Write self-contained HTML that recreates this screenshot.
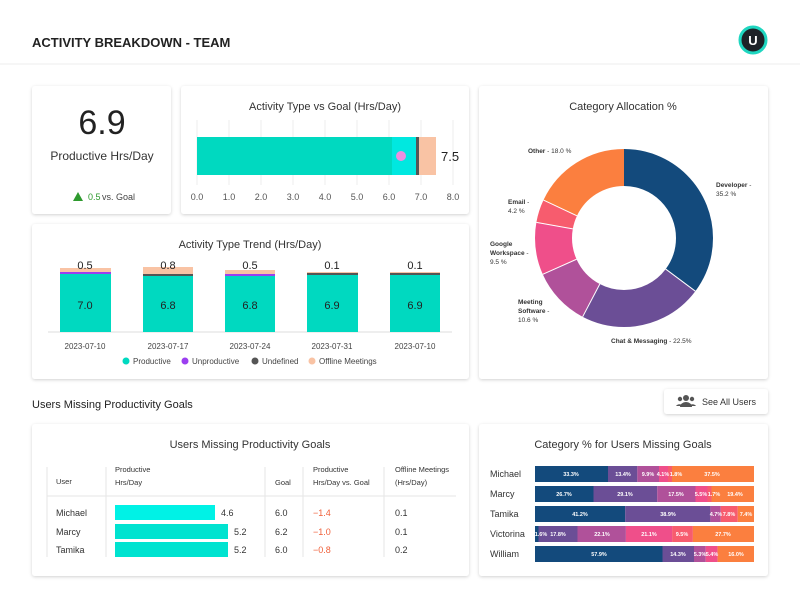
<!DOCTYPE html>
<html><head><meta charset="utf-8"><style>
html,body{margin:0;padding:0;background:#fff;}
svg{display:block;font-family:"Liberation Sans",sans-serif;}
</style></head><body>
<svg width="800" height="608" viewBox="0 0 800 608" xmlns="http://www.w3.org/2000/svg">
<defs>
<filter id="sh" x="-5%" y="-5%" width="110%" height="115%"><feDropShadow dx="0" dy="1" stdDeviation="1.5" flood-color="#000" flood-opacity="0.18"/></filter>
</defs>
<rect width="800" height="608" fill="#fff"/>
<text x="32" y="47" font-size="13" font-weight="bold" fill="#222">ACTIVITY BREAKDOWN - TEAM</text>
<line x1="0" y1="64" x2="800" y2="64" stroke="#ececec"/>
<circle cx="753" cy="40" r="13" fill="#1d2228" stroke="#1fd6c0" stroke-width="3"/>
<text x="753" y="45" font-size="13" font-weight="bold" fill="#fff" text-anchor="middle">U</text>

<g filter="url(#sh)" fill="#fff">
<rect x="32" y="86" width="139" height="128" rx="3"/>
<rect x="181" y="86" width="288" height="128" rx="3"/>
<rect x="479" y="86" width="289" height="293" rx="3"/>
<rect x="32" y="224" width="437" height="155" rx="3"/>
<rect x="664" y="389" width="104" height="25" rx="3"/>
<rect x="32" y="424" width="437" height="152" rx="3"/>
<rect x="479" y="424" width="289" height="152" rx="3"/>
</g>

<!-- card1 -->
<text x="102" y="134" font-size="34" fill="#222" text-anchor="middle">6.9</text>
<text x="102" y="160" font-size="12" fill="#333" text-anchor="middle">Productive Hrs/Day</text>
<polygon points="73,201 78,192 83,201" fill="#2e9a2e"/>
<text x="88" y="200" font-size="9" fill="#2e9a2e">0.5</text>
<text x="102" y="200" font-size="9" fill="#444">vs. Goal</text>

<!-- card2 -->
<text x="325" y="110" font-size="11" fill="#333" text-anchor="middle">Activity Type vs Goal (Hrs/Day)</text>
<g stroke="#eee">
<line x1="197" y1="120" x2="197" y2="185"/><line x1="229" y1="120" x2="229" y2="185"/><line x1="261" y1="120" x2="261" y2="185"/><line x1="293" y1="120" x2="293" y2="185"/><line x1="325" y1="120" x2="325" y2="185"/><line x1="357" y1="120" x2="357" y2="185"/><line x1="389" y1="120" x2="389" y2="185"/><line x1="421" y1="120" x2="421" y2="185"/><line x1="453" y1="120" x2="453" y2="185"/>
</g>
<rect x="197" y="137" width="195" height="38" fill="#00d9c0"/>
<rect x="392" y="137" width="24" height="38" fill="#00e8e0"/>
<rect x="416" y="137" width="3" height="38" fill="#555"/>
<rect x="419" y="137" width="17" height="38" fill="#f9c3a4"/>
<circle cx="401" cy="156" r="5" fill="#ee8ee0"/>
<text x="441" y="161" font-size="13" fill="#222">7.5</text>
<g font-size="9" fill="#555" text-anchor="middle">
<text x="197" y="200">0.0</text><text x="229" y="200">1.0</text><text x="261" y="200">2.0</text><text x="293" y="200">3.0</text><text x="325" y="200">4.0</text><text x="357" y="200">5.0</text><text x="389" y="200">6.0</text><text x="421" y="200">7.0</text><text x="453" y="200">8.0</text>
</g>

<!-- card3 donut -->
<text x="623" y="110" font-size="11" fill="#333" text-anchor="middle">Category Allocation %</text>
<g transform="translate(624,238) rotate(-90)" fill="none" stroke-width="37">
<circle r="70.5" stroke="#134a7c" stroke-dasharray="155.9 443" stroke-dashoffset="0"/>
<circle r="70.5" stroke="#6b4e96" stroke-dasharray="99.7 443" stroke-dashoffset="-155.9"/>
<circle r="70.5" stroke="#b0519a" stroke-dasharray="47 443" stroke-dashoffset="-255.6"/>
<circle r="70.5" stroke="#ef4f8a" stroke-dasharray="42.1 443" stroke-dashoffset="-302.6"/>
<circle r="70.5" stroke="#f75c6e" stroke-dasharray="18.6 443" stroke-dashoffset="-344.7"/>
<circle r="70.5" stroke="#fb7f3f" stroke-dasharray="79.7 443" stroke-dashoffset="-363.3"/>
</g>
<g transform="translate(624,238)" stroke="#fff" stroke-width="1">
<line x1="0" y1="-52" x2="0" y2="-89" transform="rotate(126.7)"/>
<line x1="0" y1="-52" x2="0" y2="-89" transform="rotate(207.7)"/>
<line x1="0" y1="-52" x2="0" y2="-89" transform="rotate(245.9)"/>
<line x1="0" y1="-52" x2="0" y2="-89" transform="rotate(280.1)"/>
<line x1="0" y1="-52" x2="0" y2="-89" transform="rotate(295.2)"/>
</g>
<g font-size="6.5" fill="#333">
<text x="528" y="153"><tspan font-weight="bold">Other</tspan> - 18.0 %</text>
<text x="716" y="187"><tspan font-weight="bold">Developer</tspan> -</text><text x="716" y="196">35.2 %</text>
<text x="508" y="204"><tspan font-weight="bold">Email</tspan> -</text><text x="508" y="213">4.2 %</text>
<text x="490" y="246" font-weight="bold">Google</text><text x="490" y="255"><tspan font-weight="bold">Workspace</tspan> -</text><text x="490" y="264">9.5 %</text>
<text x="518" y="304" font-weight="bold">Meeting</text><text x="518" y="313"><tspan font-weight="bold">Software</tspan> -</text><text x="518" y="322">10.6 %</text>
<text x="611" y="343"><tspan font-weight="bold">Chat &amp; Messaging</tspan> - 22.5%</text>
</g>

<!-- card4 trend -->
<text x="250" y="248" font-size="11" fill="#333" text-anchor="middle">Activity Type Trend (Hrs/Day)</text>
<line x1="48" y1="332" x2="452" y2="332" stroke="#ddd"/>
<g>
<rect x="60" y="274" width="51" height="58" fill="#00d9c0"/><rect x="60" y="272" width="51" height="2" fill="#9b3ff0"/><rect x="60" y="268" width="51" height="4" fill="#f9c3a4"/>
<rect x="143" y="276" width="50" height="56" fill="#00d9c0"/><rect x="143" y="274" width="50" height="2" fill="#555"/><rect x="143" y="267" width="50" height="7" fill="#f9c3a4"/>
<rect x="225" y="276" width="50" height="56" fill="#00d9c0"/><rect x="225" y="274" width="50" height="2" fill="#9b3ff0"/><rect x="225" y="270" width="50" height="4" fill="#f9c3a4"/>
<rect x="307" y="275" width="51" height="57" fill="#00d9c0"/><rect x="307" y="273" width="51" height="2" fill="#555"/><rect x="307" y="272" width="51" height="1" fill="#f9c3a4"/>
<rect x="390" y="275" width="50" height="57" fill="#00d9c0"/><rect x="390" y="273" width="50" height="2" fill="#555"/><rect x="390" y="272" width="50" height="1" fill="#f9c3a4"/>
</g>
<g font-size="11" fill="#222" text-anchor="middle">
<text x="85" y="269">0.5</text><text x="168" y="269">0.8</text><text x="250" y="269">0.5</text><text x="332" y="269">0.1</text><text x="415" y="269">0.1</text>
<text x="85" y="309">7.0</text><text x="168" y="309">6.8</text><text x="250" y="309">6.8</text><text x="332" y="309">6.9</text><text x="415" y="309">6.9</text>
</g>
<g font-size="8" fill="#444" text-anchor="middle">
<text x="85" y="349">2023-07-10</text><text x="168" y="349">2023-07-17</text><text x="250" y="349">2023-07-24</text><text x="332" y="349">2023-07-31</text><text x="415" y="349">2023-07-10</text>
</g>
<g font-size="8" fill="#444">
<circle cx="126" cy="361" r="3.5" fill="#00d9c0"/><text x="133" y="364">Productive</text>
<circle cx="185" cy="361" r="3.5" fill="#9b3ff0"/><text x="192" y="364">Unproductive</text>
<circle cx="255" cy="361" r="3.5" fill="#555"/><text x="262" y="364">Undefined</text>
<circle cx="312" cy="361" r="3.5" fill="#f9c3a4"/><text x="319" y="364">Offline Meetings</text>
</g>

<text x="32" y="408" font-size="11" fill="#222">Users Missing Productivity Goals</text>
<g fill="#555"><circle cx="686" cy="398" r="3"/><path d="M680,407 a6,5 0 0 1 12,0z"/><circle cx="680" cy="399" r="2.2"/><circle cx="692" cy="399" r="2.2"/><path d="M676,406 a4,3.5 0 0 1 7,0z"/><path d="M689,406 a4,3.5 0 0 1 7,0z"/></g>
<text x="702" y="405" font-size="9" fill="#333">See All Users</text>

<!-- card5 table -->
<text x="250" y="448" font-size="11" fill="#333" text-anchor="middle">Users Missing Productivity Goals</text>
<g stroke="#e6e6e6">
<line x1="47" y1="467" x2="47" y2="557"/><line x1="106" y1="467" x2="106" y2="557"/><line x1="265" y1="467" x2="265" y2="557"/><line x1="303" y1="467" x2="303" y2="557"/><line x1="384" y1="467" x2="384" y2="557"/>
<line x1="47" y1="496" x2="456" y2="496"/>
</g>
<g font-size="7.5" fill="#333">
<text x="56" y="484">User</text>
<text x="115" y="472">Productive</text><text x="115" y="485">Hrs/Day</text>
<text x="275" y="485">Goal</text>
<text x="313" y="472">Productive</text><text x="313" y="485">Hrs/Day vs. Goal</text>
<text x="395" y="472">Offline Meetings</text><text x="395" y="485">(Hrs/Day)</text>
</g>
<rect x="115" y="505" width="100" height="15" fill="#00f2e6"/>
<rect x="115" y="524" width="113" height="15" fill="#00e3d0"/>
<rect x="115" y="542" width="113" height="15" fill="#00e3d0"/>
<g font-size="9" fill="#333">
<text x="56" y="516">Michael</text><text x="221" y="516">4.6</text><text x="275" y="516">6.0</text><text x="313" y="516" fill="#f0603a">−1.4</text><text x="395" y="516">0.1</text>
<text x="56" y="535">Marcy</text><text x="234" y="535">5.2</text><text x="275" y="535">6.2</text><text x="313" y="535" fill="#f0603a">−1.0</text><text x="395" y="535">0.1</text>
<text x="56" y="553">Tamika</text><text x="234" y="553">5.2</text><text x="275" y="553">6.0</text><text x="313" y="553" fill="#f0603a">−0.8</text><text x="395" y="553">0.2</text>
</g>

<!-- card6 -->
<text x="623" y="448" font-size="11" fill="#333" text-anchor="middle">Category % for Users Missing Goals</text>
<g font-size="9" fill="#333">
<text x="490" y="477">Michael</text><text x="490" y="497">Marcy</text><text x="490" y="517">Tamika</text><text x="490" y="537">Victorina</text><text x="490" y="557">William</text>
</g>
<g>
<rect x="535" y="466" width="73" height="16" fill="#134a7c"/><rect x="608" y="466" width="29.3" height="16" fill="#6b4e96"/><rect x="637.3" y="466" width="21.7" height="16" fill="#b0519a"/><rect x="659" y="466" width="9" height="16" fill="#ef4f8a"/><rect x="668" y="466" width="4" height="16" fill="#f75c6e"/><rect x="672" y="466" width="82" height="16" fill="#fb7f3f"/>
<rect x="535" y="486" width="58.5" height="16" fill="#134a7c"/><rect x="593.5" y="486" width="63.7" height="16" fill="#6b4e96"/><rect x="657.2" y="486" width="38.3" height="16" fill="#b0519a"/><rect x="695.5" y="486" width="12" height="16" fill="#ef4f8a"/><rect x="707.5" y="486" width="4" height="16" fill="#f75c6e"/><rect x="711.5" y="486" width="42.5" height="16" fill="#fb7f3f"/>
<rect x="535" y="506" width="90.2" height="16" fill="#134a7c"/><rect x="625.2" y="506" width="85.2" height="16" fill="#6b4e96"/><rect x="710.4" y="506" width="10.3" height="16" fill="#b0519a"/><rect x="720.7" y="506" width="17.1" height="16" fill="#f75c6e"/><rect x="737.8" y="506" width="16.2" height="16" fill="#fb7f3f"/>
<rect x="535" y="526" width="3.5" height="16" fill="#134a7c"/><rect x="538.5" y="526" width="39" height="16" fill="#6b4e96"/><rect x="577.5" y="526" width="48.4" height="16" fill="#b0519a"/><rect x="625.9" y="526" width="46.2" height="16" fill="#ef4f8a"/><rect x="672.1" y="526" width="20.8" height="16" fill="#f75c6e"/><rect x="692.9" y="526" width="61.1" height="16" fill="#fb7f3f"/>
<rect x="535" y="546" width="127.5" height="16" fill="#134a7c"/><rect x="662.5" y="546" width="31.5" height="16" fill="#6b4e96"/><rect x="694" y="546" width="11.7" height="16" fill="#b0519a"/><rect x="705.7" y="546" width="11.9" height="16" fill="#ef4f8a"/><rect x="717.6" y="546" width="36.4" height="16" fill="#fb7f3f"/>
</g>
<g font-size="5.5" fill="#fff" font-weight="bold" text-anchor="middle">
<text x="571" y="476">33.3%</text><text x="623" y="476">13.4%</text><text x="648" y="476">9.9%</text><text x="663" y="476">4.1%</text><text x="676" y="476">1.8%</text><text x="712" y="476">37.5%</text>
<text x="564" y="496">26.7%</text><text x="625" y="496">29.1%</text><text x="676" y="496">17.5%</text><text x="701" y="496">5.5%</text><text x="714" y="496">1.7%</text><text x="735" y="496">19.4%</text>
<text x="580" y="516">41.2%</text><text x="668" y="516">38.9%</text><text x="716" y="516">4.7%</text><text x="729" y="516">7.8%</text><text x="746" y="516">7.4%</text>
<text x="541" y="536">1.6%</text><text x="558" y="536">17.8%</text><text x="602" y="536">22.1%</text><text x="649" y="536">21.1%</text><text x="682" y="536">9.5%</text><text x="723" y="536">27.7%</text>
<text x="599" y="556">57.9%</text><text x="678" y="556">14.3%</text><text x="700" y="556">5.3%</text><text x="712" y="556">5.4%</text><text x="736" y="556">16.0%</text>
</g>
</svg>
</body></html>
